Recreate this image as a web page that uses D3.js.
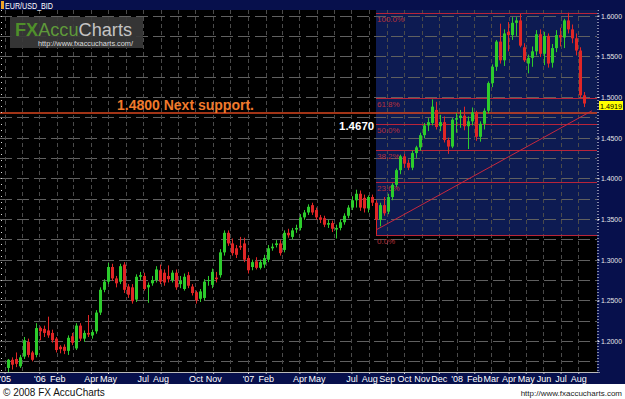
<!DOCTYPE html>
<html>
<head>
<meta charset="utf-8">
<script src="https://cdn.jsdelivr.net/npm/d3@7"></script>
<style>
  body { margin: 0; background: #fff; }
  svg { display: block; font-family: "Liberation Sans", Arial, sans-serif; }
</style>
</head>
<body>
<svg id="chart" width="625" height="399"></svg>
<script>
"use strict";

// weekly EUR/USD bars [open, high, low, close], first bar = week of 7 Nov 2005
const firstWeek = "2005-11-07";

const bars2005_06 = [
  [1.167, 1.178, 1.162, 1.177], [1.177, 1.180, 1.165, 1.171], [1.178, 1.186, 1.168, 1.172],
  [1.169, 1.183, 1.167, 1.180], [1.181, 1.205, 1.178, 1.201], [1.199, 1.203, 1.180, 1.183],
  [1.186, 1.188, 1.175, 1.177], [1.183, 1.222, 1.180, 1.216], [1.216, 1.218, 1.201, 1.212],
  [1.215, 1.219, 1.205, 1.210], [1.213, 1.230, 1.204, 1.207], [1.210, 1.214, 1.198, 1.201],
  [1.203, 1.205, 1.186, 1.189], [1.193, 1.195, 1.185, 1.190], [1.193, 1.196, 1.184, 1.188],
  [1.188, 1.207, 1.183, 1.204], [1.206, 1.210, 1.195, 1.198], [1.191, 1.222, 1.189, 1.219],
  [1.219, 1.222, 1.200, 1.203], [1.203, 1.213, 1.199, 1.210], [1.210, 1.232, 1.205, 1.208],
  [1.207, 1.214, 1.203, 1.211], [1.212, 1.238, 1.209, 1.235], [1.235, 1.266, 1.232, 1.263],
  [1.263, 1.276, 1.260, 1.273], [1.273, 1.296, 1.270, 1.291], [1.291, 1.295, 1.274, 1.277],
  [1.277, 1.280, 1.266, 1.271], [1.273, 1.295, 1.270, 1.292], [1.294, 1.297, 1.259, 1.263],
  [1.267, 1.270, 1.253, 1.257], [1.266, 1.270, 1.246, 1.249], [1.251, 1.282, 1.248, 1.279],
  [1.279, 1.285, 1.275, 1.281], [1.280, 1.284, 1.262, 1.264], [1.266, 1.272, 1.247, 1.269],
  [1.271, 1.280, 1.268, 1.275], [1.275, 1.292, 1.272, 1.288], [1.287, 1.294, 1.270, 1.273],
  [1.284, 1.288, 1.268, 1.272], [1.280, 1.293, 1.272, 1.276], [1.275, 1.287, 1.272, 1.284],
  [1.284, 1.288, 1.263, 1.266], [1.270, 1.280, 1.265, 1.274], [1.264, 1.283, 1.262, 1.279],
  [1.281, 1.285, 1.265, 1.268], [1.267, 1.270, 1.256, 1.259], [1.260, 1.262, 1.246, 1.250],
  [1.252, 1.264, 1.248, 1.261], [1.253, 1.276, 1.250, 1.273], [1.274, 1.280, 1.268, 1.275],
  [1.269, 1.289, 1.265, 1.285], [1.278, 1.285, 1.272, 1.276], [1.281, 1.313, 1.278, 1.309],
  [1.309, 1.336, 1.305, 1.333], [1.333, 1.336, 1.317, 1.320], [1.320, 1.326, 1.305, 1.308],
  [1.314, 1.318, 1.302, 1.306], [1.317, 1.328, 1.312, 1.315], [1.320, 1.327, 1.297, 1.300]
];

const bars2007 = [
  [1.302, 1.305, 1.283, 1.287], [1.291, 1.300, 1.287, 1.297], [1.298, 1.303, 1.288, 1.290],
  [1.290, 1.300, 1.288, 1.297], [1.294, 1.306, 1.290, 1.302], [1.300, 1.318, 1.297, 1.314],
  [1.314, 1.320, 1.311, 1.316], [1.318, 1.324, 1.315, 1.320], [1.320, 1.324, 1.305, 1.308],
  [1.312, 1.336, 1.309, 1.333], [1.333, 1.338, 1.327, 1.330], [1.328, 1.339, 1.325, 1.336],
  [1.337, 1.343, 1.333, 1.339], [1.339, 1.356, 1.336, 1.352], [1.352, 1.361, 1.349, 1.358],
  [1.358, 1.368, 1.355, 1.365], [1.367, 1.370, 1.355, 1.358], [1.361, 1.364, 1.349, 1.352],
  [1.352, 1.355, 1.345, 1.349], [1.351, 1.354, 1.340, 1.343], [1.343, 1.349, 1.339, 1.345],
  [1.345, 1.348, 1.334, 1.338], [1.337, 1.343, 1.326, 1.339], [1.339, 1.349, 1.336, 1.346],
  [1.346, 1.357, 1.343, 1.354], [1.354, 1.367, 1.351, 1.364], [1.364, 1.378, 1.361, 1.373],
  [1.373, 1.386, 1.364, 1.381], [1.381, 1.385, 1.360, 1.364], [1.376, 1.380, 1.358, 1.363],
  [1.363, 1.379, 1.358, 1.377], [1.377, 1.380, 1.366, 1.370], [1.370, 1.373, 1.3305, 1.349],
  [1.349, 1.370, 1.341, 1.367], [1.367, 1.377, 1.354, 1.357], [1.359, 1.381, 1.356, 1.377],
  [1.377, 1.394, 1.373, 1.392], [1.392, 1.412, 1.389, 1.410], [1.410, 1.429, 1.405, 1.427],
  [1.427, 1.430, 1.413, 1.418], [1.419, 1.423, 1.410, 1.413], [1.413, 1.434, 1.410, 1.431],
  [1.431, 1.440, 1.425, 1.438], [1.438, 1.456, 1.434, 1.453], [1.453, 1.468, 1.449, 1.465],
  [1.465, 1.474, 1.458, 1.469], [1.468, 1.497, 1.465, 1.488], [1.484, 1.494, 1.460, 1.463],
  [1.464, 1.478, 1.458, 1.469], [1.469, 1.476, 1.444, 1.447], [1.447, 1.450, 1.430, 1.439],
  [1.439, 1.474, 1.437, 1.472]
];

const bars2008 = [
  [1.472, 1.480, 1.456, 1.474], [1.474, 1.484, 1.462, 1.477], [1.477, 1.488, 1.459, 1.464],
  [1.464, 1.476, 1.436, 1.470], [1.470, 1.487, 1.465, 1.481], [1.481, 1.483, 1.446, 1.451],
  [1.451, 1.470, 1.445, 1.467], [1.467, 1.486, 1.460, 1.483], [1.483, 1.519, 1.480, 1.517],
  [1.517, 1.540, 1.512, 1.537], [1.537, 1.570, 1.532, 1.568], [1.568, 1.590, 1.541, 1.545],
  [1.545, 1.583, 1.538, 1.578], [1.580, 1.592, 1.556, 1.576], [1.576, 1.598, 1.570, 1.591],
  [1.591, 1.598, 1.575, 1.594], [1.594, 1.602, 1.561, 1.563], [1.561, 1.566, 1.543, 1.545],
  [1.541, 1.552, 1.529, 1.548], [1.548, 1.562, 1.537, 1.556], [1.556, 1.582, 1.551, 1.577],
  [1.577, 1.583, 1.549, 1.553], [1.553, 1.580, 1.539, 1.575], [1.575, 1.578, 1.536, 1.541],
  [1.542, 1.565, 1.536, 1.560], [1.560, 1.582, 1.555, 1.576], [1.576, 1.585, 1.562, 1.573],
  [1.573, 1.596, 1.560, 1.594], [1.594, 1.6035, 1.578, 1.583], [1.583, 1.589, 1.566, 1.572],
  [1.572, 1.578, 1.551, 1.557], [1.557, 1.561, 1.499, 1.502], [1.502, 1.506, 1.4875, 1.4919]
];

// fibonacci retracement drawn from the Aug 2007 low (bar 92) to the Jul 2008 high
const fibLow = 1.3305, fibHigh = 1.6035, fibStartBar = 92;
const fibLevels = [0, 0.236, 0.382, 0.5, 0.618, 1.0];
const fibLabels = ["0.0%", "23.6%", "38.2%", "50.0%", "61.8%", "100.0%"];

// support line and trend line
const supportLevel = 1.48;
const trendPoints = [[92, 1.3365], [146, 1.483]];
const lastPrice = 1.4919;

const priceTicks = [1.20, 1.25, 1.30, 1.35, 1.40, 1.45, 1.50, 1.55, 1.60];
const monthLabels = [
  ["2005-11-01", "'05"], ["2006-01-01", "'06"], ["2006-02-01", "Feb"], ["2006-04-01", "Apr"],
  ["2006-05-01", "May"], ["2006-07-01", "Jul"], ["2006-08-01", "Aug"], ["2006-10-01", "Oct"],
  ["2006-11-01", "Nov"], ["2007-01-01", "'07"], ["2007-02-01", "Feb"], ["2007-04-01", "Apr"],
  ["2007-05-01", "May"], ["2007-07-01", "Jul"], ["2007-08-01", "Aug"], ["2007-09-01", "Sep"],
  ["2007-10-01", "Oct"], ["2007-11-01", "Nov"], ["2007-12-01", "Dec"], ["2008-01-01", "'08"],
  ["2008-02-01", "Feb"], ["2008-03-01", "Mar"], ["2008-04-01", "Apr"], ["2008-05-01", "May"],
  ["2008-06-01", "Jun"], ["2008-07-01", "Jul"], ["2008-08-01", "Aug"]
];

// ---- layout
const W = 625, H = 399;
const plot = { left: 0, right: 597, top: 10, bottom: 372 };
const navy = "#07104c";

const parse = d3.timeParse("%Y-%m-%d");
const start = parse(firstWeek);
const weekDate = i => d3.timeDay.offset(start, 7 * i);

const data = bars2005_06.concat(bars2007, bars2008).map((b, i) => ({
  date: weekDate(i), open: b[0], high: b[1], low: b[2], close: b[3]
}));

const x = d3.scaleTime()
  .domain([start, weekDate(data.length - 1)])
  .range([8, 584]);
const y = d3.scaleLinear()
  .domain([1.162, 1.6068])
  .range([plot.bottom, plot.top]);

const svg = d3.select("#chart");

// backgrounds
svg.append("rect").attr("width", W).attr("height", H).attr("fill", "#fff");
svg.append("rect").attr("width", W).attr("height", 384).attr("fill", navy);
svg.append("rect")
  .attr("x", plot.left).attr("y", plot.top)
  .attr("width", plot.right - plot.left).attr("height", plot.bottom - plot.top)
  .attr("fill", "#000");

svg.append("clipPath").attr("id", "plotClip")
  .append("rect")
  .attr("x", plot.left).attr("y", plot.top)
  .attr("width", plot.right - plot.left).attr("height", plot.bottom - plot.top);

const g = svg.append("g").attr("clip-path", "url(#plotClip)");

// fib zone shading
const fibX = Math.round(x(weekDate(fibStartBar)));
g.append("rect")
  .attr("x", fibX).attr("y", plot.top)
  .attr("width", plot.right - fibX)
  .attr("height", Math.round(y(fibLow)) - plot.top)
  .attr("fill", "#0d1b52");

// grid
const gridLevels = d3.range(1.175, 1.6001, 0.025);
g.append("g").selectAll("line").data(gridLevels).join("line")
  .attr("x1", plot.left).attr("x2", plot.right)
  .attr("y1", d => Math.round(y(d)) + 0.5).attr("y2", d => Math.round(y(d)) + 0.5)
  .attr("stroke", "#606060").attr("stroke-dasharray", "12,5");

const months = d3.timeMonth.range(parse("2005-11-01"), parse("2008-09-01"));
g.append("g").selectAll("line").data(months).join("line")
  .attr("x1", d => Math.round(x(d)) + 0.5).attr("x2", d => Math.round(x(d)) + 0.5)
  .attr("y1", plot.top).attr("y2", plot.bottom)
  .attr("stroke", "#4a4a4a").attr("stroke-dasharray", "4,3");

// fib lines + labels
const fib = g.append("g");
fibLevels.forEach((lv, k) => {
  const py = Math.round(y(fibLow + lv * (fibHigh - fibLow))) + 0.5;
  fib.append("line")
    .attr("x1", fibX).attr("x2", plot.right)
    .attr("y1", py).attr("y2", py)
    .attr("stroke", "#b8243a").attr("stroke-width", 1);
  fib.append("text")
    .attr("x", fibX + 1).attr("y", py + 8)
    .attr("font-size", 8).attr("fill", "#b8303a")
    .text(fibLabels[k]);
});

// support line
const sy = Math.round(y(supportLevel));
g.append("line")
  .attr("x1", plot.left).attr("x2", plot.right)
  .attr("y1", sy).attr("y2", sy)
  .attr("stroke", "#d8461e").attr("stroke-width", 1.5);

// candles
const up = "#2ccc2c", down = "#e02626";
const candles = g.append("g").selectAll("g").data(data).join("g");
candles.append("line")
  .attr("x1", d => Math.round(x(d.date)) + 0.5)
  .attr("x2", d => Math.round(x(d.date)) + 0.5)
  .attr("y1", d => y(d.high)).attr("y2", d => y(d.low))
  .attr("stroke", d => d.close >= d.open ? up : down);
candles.append("rect")
  .attr("x", d => Math.round(x(d.date)) - 1)
  .attr("width", 3)
  .attr("y", d => y(Math.max(d.open, d.close)))
  .attr("height", d => Math.max(1, Math.abs(y(d.open) - y(d.close))))
  .attr("fill", d => d.close >= d.open ? up : down);

// trend line
const trendX = d => x(weekDate(d[0]));
g.append("line")
  .attr("x1", trendX(trendPoints[0])).attr("y1", y(trendPoints[0][1]))
  .attr("x2", trendX(trendPoints[1])).attr("y2", y(trendPoints[1][1]))
  .attr("stroke", "#c8283e").attr("stroke-width", 1);

// annotations
svg.append("text")
  .attr("x", 117).attr("y", 110)
  .attr("font-size", 14).attr("font-weight", "bold").attr("fill", "#f07a2c")
  .text("1.4800 Next support.");
svg.append("text")
  .attr("x", 339).attr("y", 130)
  .attr("font-size", 11.5).attr("font-weight", "bold").attr("fill", "#fff")
  .text("1.4670");

// left edge dotted ticks
svg.append("line")
  .attr("x1", 1.5).attr("x2", 1.5).attr("y1", plot.top).attr("y2", plot.bottom)
  .attr("stroke", "#ddd").attr("stroke-dasharray", "1,5");

// right price axis
const yAxis = svg.append("g")
  .attr("transform", `translate(${plot.right + 0.5},0)`)
  .call(d3.axisRight(y).tickValues(priceTicks).tickSize(2).tickPadding(1.5)
    .tickFormat(d3.format(".4f")));
yAxis.select(".domain").attr("stroke", "#fff").attr("stroke-dasharray", "1,2");
yAxis.selectAll(".tick line").attr("stroke", "#fff");
yAxis.selectAll(".tick text")
  .attr("fill", "#e8e8e8").attr("font-size", 7.8)
  .attr("textLength", 21).attr("lengthAdjust", "spacingAndGlyphs")
  .attr("font-family", "'Liberation Sans', Arial, sans-serif");

// last price tag
const ly = Math.round(y(lastPrice));
svg.append("rect")
  .attr("x", 599).attr("y", ly - 3).attr("width", 24).attr("height", 9)
  .attr("fill", "#ffff00");
svg.append("text")
  .attr("x", 600).attr("y", ly + 5)
  .attr("font-size", 7.8).attr("fill", "#000")
  .attr("textLength", 22).attr("lengthAdjust", "spacingAndGlyphs")
  .text(d3.format(".4f")(lastPrice));

// bottom time axis
const labelMap = new Map(monthLabels.map(d => [+parse(d[0]), d[1]]));
svg.append("rect")
  .attr("x", 0).attr("y", plot.bottom).attr("width", plot.right + 1).attr("height", 1)
  .attr("fill", "#bbb");
const xAxis = svg.append("g")
  .attr("transform", `translate(0,${plot.bottom})`)
  .call(d3.axisBottom(x).tickValues(monthLabels.map(d => parse(d[0])))
    .tickSize(2).tickPadding(0).tickFormat(d => labelMap.get(+d)));
xAxis.select(".domain").remove();
xAxis.selectAll(".tick line").attr("stroke", "#ccc");
xAxis.selectAll(".tick text")
  .attr("fill", "#fff").attr("font-size", 9).attr("dy", "0.9em")
  .attr("font-family", "'Liberation Sans', Arial, sans-serif");

// title bar
svg.append("rect").attr("x", 1).attr("y", 1).attr("width", 3).attr("height", 8).attr("fill", "#f0a428");
svg.append("text")
  .attr("x", 5).attr("y", 8.5)
  .attr("font-size", 8.5).attr("fill", "#fff")
  .attr("textLength", 48).attr("lengthAdjust", "spacingAndGlyphs")
  .text("EUR/USD_BID");

// logo
svg.append("rect")
  .attr("x", 10).attr("y", 17).attr("width", 133).attr("height", 31)
  .attr("fill", "#3a3a3a").attr("opacity", 0.92);
const logo = svg.append("text")
  .attr("x", 15).attr("y", 35.5).attr("font-size", 18)
  .attr("textLength", 117).attr("lengthAdjust", "spacingAndGlyphs");
logo.append("tspan").attr("fill", "#4f8f2a").attr("font-weight", "bold").text("FX");
logo.append("tspan").attr("fill", "#5f9a3a").text("Accu");
logo.append("tspan").attr("fill", "#c4c4c4").text("Charts");
svg.append("text")
  .attr("x", 38).attr("y", 46).attr("font-size", 7.5).attr("fill", "#ddd")
  .attr("textLength", 95).attr("lengthAdjust", "spacingAndGlyphs")
  .text("http://www.fxaccucharts.com/");

// footer
svg.append("text")
  .attr("x", 3).attr("y", 396).attr("font-size", 10).attr("fill", "#111")
  .text("\u00a9 2008 FX AccuCharts");
svg.append("text")
  .attr("x", 622).attr("y", 396).attr("font-size", 8).attr("fill", "#222")
  .attr("text-anchor", "end")
  .text("http://www.fxaccucharts.com");
</script>
</body>
</html>
